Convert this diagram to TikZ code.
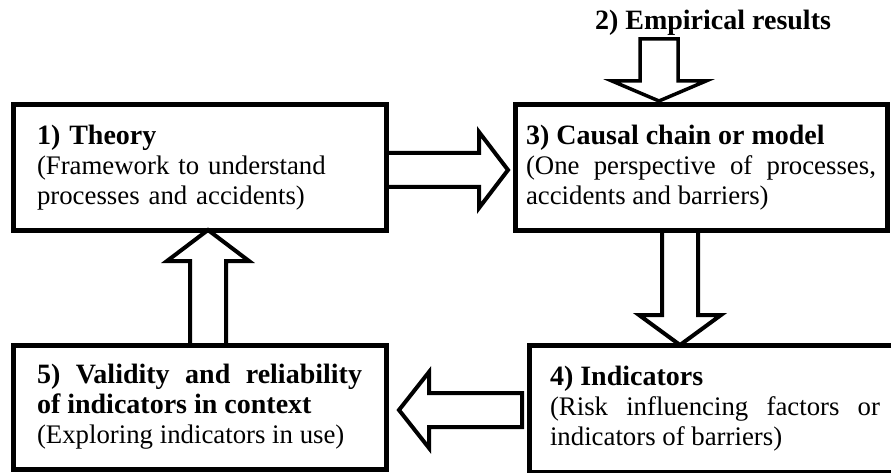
\documentclass[tikz,border=0pt]{standalone}
\usepackage{fontspec}
\setmainfont{Liberation Serif}
\usetikzlibrary{calc}

\newcommand{\steptitle}[1]{{\fontsize{28}{30}\selectfont\bfseries #1}}
\tikzset{
  stepbox/.style={draw, line width=5pt, inner sep=0pt, outer sep=0pt,
    anchor=north west, font=\fontsize{26.8}{30}\selectfont},
  fatline/.style={draw, line width=4pt, line join=miter},
}
% hollow block arrow: [style]{tail}{tip}{half shaft}{half head}{head length}
\newcommand{\fatarrow}[6][]{%
  \path let \p1=($(#3)-(#2)$), \n1={veclen(\x1,\y1)}, \n2={atan2(\y1,\x1)} in
    \pgfextra{\xdef\arrlen{\n1}\xdef\arrang{\n2}};
  \begin{scope}[shift={(#2)}, rotate=\arrang]
    \draw[fatline,#1] (0pt,#4) -- (\arrlen-#6,#4) -- (\arrlen-#6,#5) -- (\arrlen,0pt)
      -- (\arrlen-#6,-#5) -- (\arrlen-#6,-#4) -- (0pt,-#4) -- cycle;
  \end{scope}}

\begin{document}
\begin{tikzpicture}[x=1pt,y=-1pt]
\clip (0,0) rectangle (891,473);

% the five steps
\node[stepbox, minimum width=373, minimum height=125, text width=325, align=left]
  (theory) at (13,105) {\steptitle{1) Theory}\\(Framework to understand\\processes and accidents)};
\node[anchor=base] (empir) at (713,30) {\steptitle{2) Empirical results}};
\node[stepbox, minimum width=372, minimum height=125, text width=350, align=justify]
  (causal) at (515,105) {\steptitle{3) Causal chain or model}\\(One perspective of processes,\linebreak accidents and barriers)};
\node[stepbox, minimum width=372, minimum height=127, text width=330, align=justify]
  (indic) at (529,345) {\steptitle{4) Indicators}\\(Risk influencing factors or\linebreak indicators of barriers)};
\node[stepbox, minimum width=373, minimum height=124, text width=325, align=justify]
  (valid) at (13,345) {\steptitle{5) Validity and reliability\linebreak of indicators in context}\\(Exploring indicators in use)};

% ends of the arrows
\coordinate (a13) at ($(theory.east)+(0,2.5)$);
\coordinate (t13) at ($(causal.west)+(-7,2.5)$);
\coordinate (a2) at ($(causal.north)+(-42,-66)$);
\coordinate (t2) at ($(causal.north)+(-42,-4)$);
\coordinate (a34) at ($(causal.south)+(-21,0)$);
\coordinate (t34) at (a34 |- indic.north);
\coordinate (a45) at ($(indic.west)+(-7,1.5)$);
\coordinate (t45) at ($(a45 -| valid.east)+(13,0)$);
\coordinate (a51) at ($(valid.north)+(8.5,0)$);
\coordinate (t51) at (a51 |- theory.south);

\fatarrow{a13}{t13}{17pt}{38pt}{29pt}
\fatarrow[line width=3.5pt]{a2}{t2}{19pt}{47pt}{20pt}
\fatarrow{a34}{t34}{18pt}{41pt}{30pt}
\fatarrow{a45}{t45}{17pt}{38pt}{30pt}
\fatarrow{a51}{t51}{18pt}{41pt}{31pt}
\end{tikzpicture}
\end{document}
